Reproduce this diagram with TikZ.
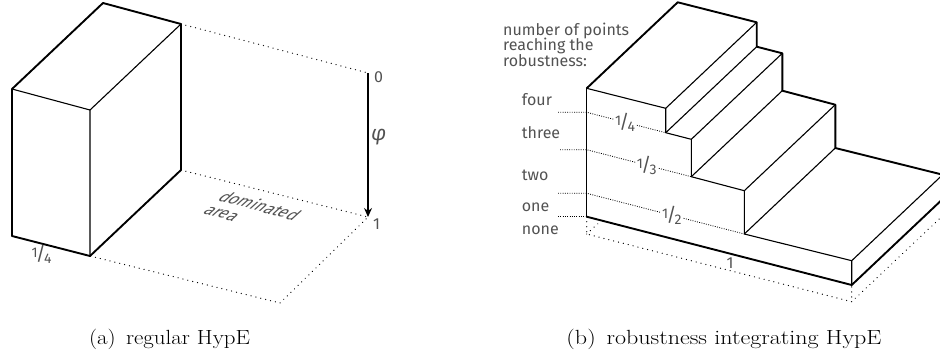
\documentclass[tikz,border=0pt]{standalone}
\usepackage{fontspec}
\usetikzlibrary{arrows.meta,calc}
\newfontfamily\labfont{Fira Sans}
\newcommand\myfr[2]{\raisebox{3pt}{\fontsize{14}{14}\selectfont#1}\kern-1.6pt{\fontsize{19}{19}\selectfont/}\kern-1.8pt\raisebox{-2.8pt}{\fontsize{14}{14}\selectfont#2}}
\begin{document}
\begin{tikzpicture}[x=1pt,y=-1pt,
  thk/.style={line width=1.9pt, line join=round, line cap=round},
  thn/.style={line width=1.1pt, line join=round},
  dots/.style={line width=1.3pt, dash pattern=on 0.01pt off 5pt, line cap=round},
  fdots/.style={line width=0.8pt, dash pattern=on 0.9pt off 1.4pt},
  lab/.style={font=\labfont\fontsize{16}{16}\selectfont, text=black!68, inner sep=0pt},
  capt/.style={font=\fontsize{20.5}{24}\selectfont, inner sep=0pt}]
\useasboundingbox (0,0) rectangle (940,354);
% ---------- (a) ----------
\coordinate (a1) at (12,89);
\coordinate (a2) at (90,110);
\coordinate (a3) at (90,256);
\coordinate (a4) at (12,236);
\coordinate (a5) at (103,3);
\coordinate (a6) at (181,24);
\coordinate (a7) at (181,170);
\coordinate (p0) at (368,73);
\coordinate (p1) at (368,217);
\coordinate (a8) at (280,303);
\draw[dots] (a6) -- (p0) (a7) -- (p1) -- (a8) -- (a3);
\draw[thn] (a1) -- (a2) -- (a6) (a2) -- (a3);
\draw[thk] (a1) -- (a5) -- (a6) -- (a7) -- (a3) -- (a4) -- cycle;
\draw[line width=1.2pt, -{Stealth[length=9pt,width=8pt]}] (p0) -- (p1);
\node[lab, anchor=west] (z0) at (374,77) {0};
\node[lab, anchor=west] (z1) at (373,224) {1};
\node[lab, anchor=west, font=\labfont\itshape\fontsize{21}{21}\selectfont] (phi) at (371,137) {φ};
\node[lab] (qa) at (41.5,254) {\myfr{1}{4}};
\node[lab, rotate=-15, xslant=0.65, align=left, font=\labfont\fontsize{16}{16.5}\selectfont] (dom) at (253,212) {dominated\\area};
% ---------- (b) ----------
\coordinate (r1) at (586.7,88.3);
\coordinate (r2) at (665.7,108.3);
\coordinate (r3) at (665.7,132.7);
\coordinate (r4) at (691.3,139.3);
\coordinate (r5) at (691.3,176.7);
\coordinate (r6) at (744.3,190.7);
\coordinate (r7) at (744.3,234);
\coordinate (r8) at (851.7,260.7);
\coordinate (r9) at (851.7,285);
\coordinate (r10) at (586.7,216.7);
\foreach \i in {1,...,9} {\coordinate (b\i) at ($(r\i)+(91,-86)$);}
\coordinate (s1) at (586.7,234);
\coordinate (s2) at (851.7,301.7);
\coordinate (s3) at ($(s2)+(91,-86)$);
\coordinate (s4) at ($(s1)+(14,-13)$);
\draw[dots] (r10) -- (s1) -- (s2) -- (r9) (s2) -- (s3) (s1) -- (s4);
\draw[thn] (r1) -- (r2) -- (r3) -- (r4) -- (r5) -- (r6) -- (r7) -- (r8) -- (r9);
\foreach \i in {2,...,8} {\draw[thn] (r\i) -- (b\i);}
\draw[thn, line width=1.5pt] (r1) -- (r10);
\draw[thk] (r1) -- (b1) -- (b2) -- (b3) -- (b4) -- (b5) -- (b6) -- (b7) -- (b8);
\draw[thk] (r10) -- (r9) -- (b9);
% level lines
\coordinate (l1a) at (558,112.3);
\coordinate (l1b) at (586.7,112.3);
\coordinate (l2a) at (560,149.7);
\coordinate (l2b) at (586.7,149.7);
\coordinate (l3a) at (558,193.3);
\coordinate (l3b) at (586.7,193.3);
\coordinate (l4a) at (558,216.7);
\draw[fdots] (l1a) -- (l1b) -- (r3) node[lab, pos=0.485, fill=white, inner sep=1pt] (f1) {\myfr{1}{4}};
\draw[fdots] (l2a) -- (l2b) -- (r5) node[lab, pos=0.574, fill=white, inner sep=1pt] (f2) {\myfr{1}{3}};
\draw[fdots] (l3a) -- (l3b) -- (r7) node[lab, pos=0.54, fill=white, inner sep=1pt] (f3) {\myfr{1}{2}};
\draw[fdots] (l4a) -- (r10);
\node[lab, anchor=base west] (t1) at (503,35) {number of points};
\node[lab, anchor=base west] (t2) at (503,50.5) {reaching the};
\node[lab, anchor=base west] (t3) at (503,66) {robustness:};
\node[lab, anchor=base west] (n4) at (521.7,105) {four};
\node[lab, anchor=base west] (n3) at (521.7,138) {three};
\node[lab, anchor=base west] (n2) at (521.7,180.7) {two};
\node[lab, anchor=base west] (n1) at (521.7,211.7) {one};
\node[lab, anchor=base west] (n0) at (521.7,234) {none};
\node[lab] (one) at (730,263) {1};
% captions
\node[capt, anchor=base] (ca) at (169.5,344) {\resizebox{161pt}{\height}{(a)\hspace{0.45em}regular HypE}};
\node[capt, anchor=base] (cb) at (724,344) {\resizebox{315pt}{\height}{(b)\hspace{0.45em}robustness integrating HypE}};
\end{tikzpicture}
\end{document}
